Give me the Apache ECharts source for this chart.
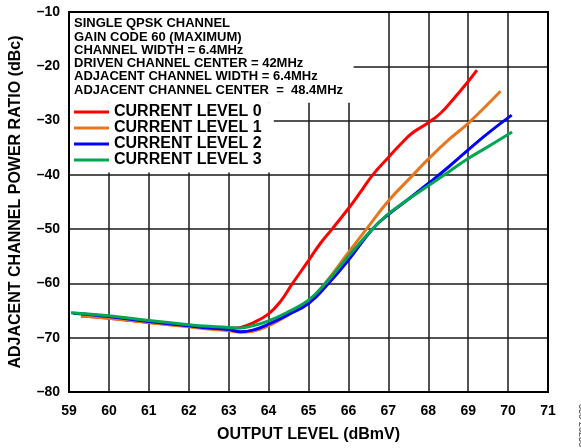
<!DOCTYPE html>
<html><head><meta charset="utf-8">
<script src="https://cdn.jsdelivr.net/npm/echarts@6/dist/echarts.min.js"></script>
<style>html,body{margin:0;padding:0;background:#fff}#c{width:581px;height:448px}</style>
</head><body><div id="c"></div>
<script>
const xMin = 59, xMax = 71, xStep = 1;
const yMin = -80, yMax = -10, yStep = 10;
const seriesNames = ['CURRENT LEVEL 0', 'CURRENT LEVEL 1', 'CURRENT LEVEL 2', 'CURRENT LEVEL 3'];
const seriesColors = ['#ff0000', '#e8761e', '#0000ff', '#00a651'];
const level0 = [[59.3,-66.0],[60,-66.4],[61,-67.2],[62,-67.9],[62.5,-68.2],[63,-68.3],[63.3,-68.1],[63.6,-67.3],[64,-65.6],[64.3,-63.3],[64.6,-60.0],[65,-55.8],[65.3,-52.6],[65.6,-49.9],[66,-46.2],[66.3,-43.2],[66.6,-40.1],[67,-36.8],[67.3,-34.4],[67.6,-32.3],[68,-30.4],[68.3,-28.7],[68.6,-26.3],[69,-22.8],[69.22,-20.7]];
const level1 = [[59.3,-66.0],[60,-66.4],[61,-67.2],[62,-68.0],[62.5,-68.4],[63,-68.7],[63.3,-69.0],[63.6,-68.8],[64,-67.8],[64.5,-65.8],[65,-63.3],[65.4,-60.1],[66,-54.3],[66.45,-50.0],[67,-44.8],[67.62,-40.0],[68,-37.1],[68.5,-33.6],[69,-30.5],[69.81,-24.6]];
const level2 = [[59.1,-65.5],[60,-66.1],[61,-67.0],[62,-67.8],[62.5,-68.2],[63,-68.5],[63.3,-68.9],[63.6,-68.6],[64,-67.5],[64.5,-65.7],[65,-63.7],[65.5,-60.0],[66,-55.7],[66.6,-50.0],[67,-47.3],[67.5,-44.5],[68,-41.6],[68.5,-38.6],[69,-35.4],[69.5,-32.3],[70.09,-29.0]];
const level3 = [[59.05,-65.4],[60,-65.95],[61,-66.85],[62,-67.6],[62.5,-67.9],[63,-68.1],[63.3,-68.2],[63.6,-67.8],[64,-66.9],[64.5,-65.2],[65,-63.1],[65.4,-60.2],[66,-55.0],[66.6,-50.0],[67,-47.2],[67.5,-44.5],[68,-42.0],[68.5,-39.5],[69,-37.0],[69.5,-34.8],[70.1,-32.1]];
const seriesData = [level0, level1, level2, level3];
const infoLines = ['SINGLE QPSK CHANNEL','GAIN CODE 60 (MAXIMUM)','CHANNEL WIDTH = 6.4MHz','DRIVEN CHANNEL CENTER = 42MHz','ADJACENT CHANNEL WIDTH = 6.4MHz','ADJACENT CHANNEL CENTER  =  48.4MHz'];
const xName = 'OUTPUT LEVEL (dBmV)';
const yName = 'ADJACENT CHANNEL POWER RATIO (dBc)';
const figId = '08707-020';

const FONT = "'Liberation Sans', Arial, sans-serif";
const chart = echarts.init(document.getElementById('c'), null, {renderer: 'canvas'});

const series = seriesNames.map((n, i) => ({
  name: n, type: 'line', data: seriesData[i], smooth: 0.45,
  showSymbol: false, symbol: 'none', color: seriesColors[i],
  lineStyle: {width: 3, color: seriesColors[i]}, z: 5,
  animation: false
}));
series[0].markArea = {
  silent: true,
  itemStyle: {color: '#fff', opacity: 1},
  data: [
    [{coord: [59.03, -10.18]}, {coord: [66.13, -26.7]}],
    [{coord: [59.03, -26.7]}, {coord: [64.13, -39.55]}]
  ]
};

chart.setOption({
  animation: false,
  grid: {left: 69, top: 12, right: 33, bottom: 54, show: true, z: 10,
         backgroundColor: 'transparent', borderColor: '#000', borderWidth: 2},
  xAxis: {type: 'value', min: xMin, max: xMax, interval: xStep,
    name: xName, nameLocation: 'middle', nameGap: 35,
    nameTextStyle: {fontFamily: FONT, fontWeight: 'bold', fontSize: 16, color: '#000'},
    axisLine: {show: false}, axisTick: {show: false},
    axisLabel: {margin: 12, fontFamily: FONT, fontWeight: 'bold', fontSize: 14, color: '#000'},
    splitLine: {show: true, lineStyle: {color: '#1a1a1a', width: 1.5}}},
  yAxis: {type: 'value', min: yMin, max: yMax, interval: yStep,
    name: yName, nameLocation: 'middle', nameGap: 45, nameRotate: 90,
    nameTextStyle: {fontFamily: FONT, fontWeight: 'bold', fontSize: 16, color: '#000'},
    axisLine: {show: false}, axisTick: {show: false},
    axisLabel: {margin: 9, fontFamily: FONT, fontWeight: 'bold', fontSize: 14, color: '#000',
      formatter: v => String(v).replace('-', '\u2013')},
    splitLine: {show: true, lineStyle: {color: '#1a1a1a', width: 1.5}}},
  legend: {orient: 'vertical', left: 74, top: 104, itemGap: 0, itemWidth: 35, itemHeight: 3,
    icon: 'rect', padding: 0,
    textStyle: {fontFamily: FONT, fontWeight: 'bold', fontSize: 16, color: '#000', lineHeight: 16},
    data: seriesNames},
  graphic: [
    {type: 'text', left: 74, top: 17, z: 20,
     style: {text: infoLines.join('\n'), font: "bold 13px 'Liberation Sans', Arial, sans-serif",
       lineHeight: 13.3, fill: '#000'}},
    {type: 'text', x: 578, y: 447, rotation: Math.PI / 2, z: 20,
     style: {text: figId, font: "9px 'Liberation Sans', Arial, sans-serif", fill: '#333',
       textAlign: 'left', textVerticalAlign: 'top'}}
  ],
  series: series
});
</script></body></html>
